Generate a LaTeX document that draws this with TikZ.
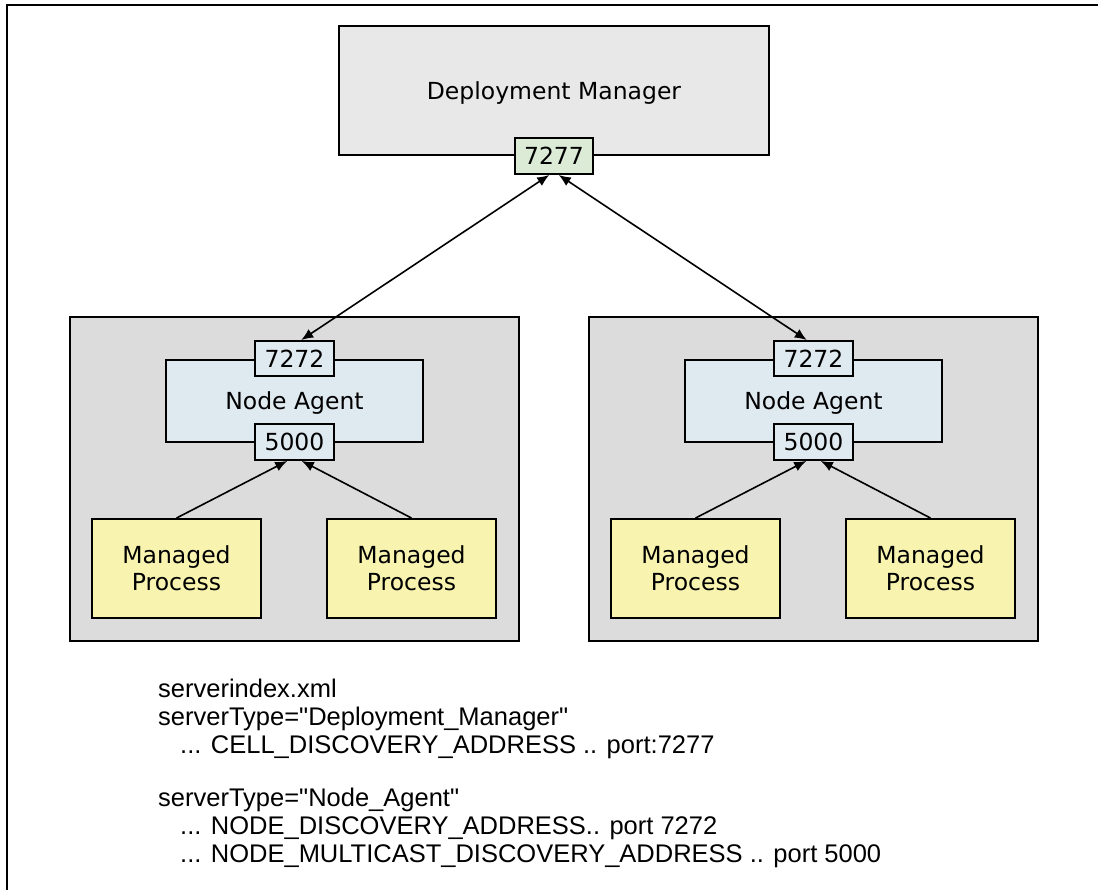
\documentclass[tikz,border=0pt]{standalone}
\usepackage{fontspec}
\setmainfont{DejaVu Sans}
\newfontfamily\notefont{Liberation Sans}
\usetikzlibrary{arrows.meta}
\definecolor{mgrfill}{HTML}{E8E8E8}
\definecolor{grpfill}{HTML}{DCDCDC}
\definecolor{agtfill}{HTML}{DFE9F0}
\definecolor{dmport}{HTML}{DCEBD6}
\definecolor{procfill}{HTML}{F8F4B0}
\newcommand{\qq}{\textquotedbl}

\begin{document}
\begin{tikzpicture}[x=1pt, y=-1pt,
    box/.style={draw=black, line width=1.9pt, inner sep=0pt, text depth=0pt, align=center,
        font=\fontsize{23.5}{27}\selectfont},
    port/.style={box, minimum width=79pt, minimum height=36pt},
    grpbox/.style={draw=black, line width=1.9pt, fill=grpfill, minimum width=449pt, minimum height=324pt},
    proc/.style={box, fill=procfill, minimum width=169pt, minimum height=99pt},
    arrow/.style={>={Latex[length=12pt, width=10pt]}, line width=1.6pt},
    txtline/.style={anchor=base west, inner sep=0pt, font=\notefont\fontsize{25.5}{28}\selectfont}]
    \useasboundingbox (0,0) rectangle (1098,890);
    \draw[line width=2pt] (7,890) -- (7,5) -- (1098,5);
    % deployment manager
    \node[box, fill=mgrfill, minimum width=430pt, minimum height=129pt] (dm) at (554,90.5) {Deployment Manager};
    \node[port, fill=dmport, minimum width=78pt] (dmp) at (554,156) {7277};
    % two nodes
    \foreach \g/\cx in {l/294.5, r/813.5} {
        \node[grpbox] (grp\g) at (\cx,479) {};
        \node[box, fill=agtfill, minimum width=257pt, minimum height=82pt] (na\g) at (\cx,401) {Node Agent};
        \node[port, fill=agtfill, minimum height=35pt] (dsc\g) at (\cx,358.5) {7272};
        \node[port, fill=agtfill] (mcs\g) at (\cx,442) {5000};
        \node[proc] (mpa\g) at (\cx-118,568.5) {Managed\\Process};
        \node[proc] (mpb\g) at (\cx+117,568.5) {Managed\\Process};
        \draw[->, arrow] (mpa\g.north) -- (mcs\g.-111);
        \draw[->, arrow] (mpb\g.north) -- (mcs\g.-69);
    }
    \draw[<->, arrow] (dmp.-104) -- (dscl.70);
    \draw[<->, arrow] (dmp.-76) -- (dscr.110);
    % serverindex.xml notes
    \node[txtline] (idx) at (158,697) {serverindex.xml};
    \node[txtline] (dmtype) at (158,725) {serverType=\qq Deployment\_Manager\qq};
    \node[txtline] (cell) at (180,753) {... CELL\_DISCOVERY\_ADDRESS .. port:7277};
    \node[txtline] (natype) at (158,806) {serverType=\qq Node\_Agent\qq};
    \node[txtline] (ndisc) at (180,834) {... NODE\_DISCOVERY\_ADDRESS.. port 7272};
    \node[txtline] (nmcast) at (180,862) {... NODE\_MULTICAST\_DISCOVERY\_ADDRESS .. port 5000};
\end{tikzpicture}
\end{document}
